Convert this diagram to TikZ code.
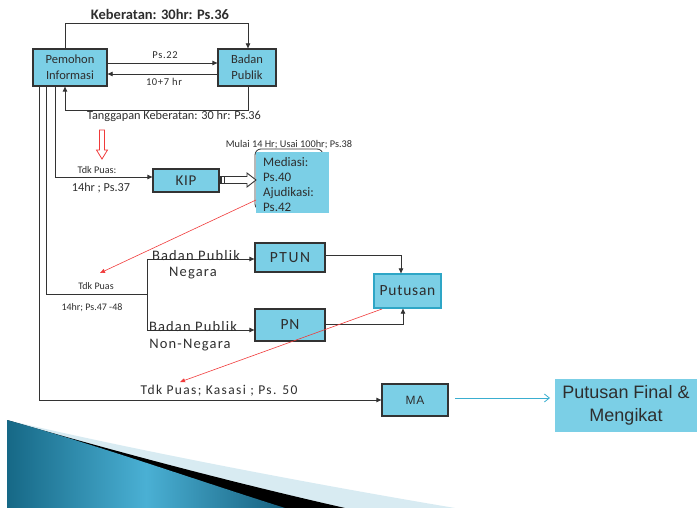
\documentclass[tikz,border=0pt]{standalone}
\usepackage{fontspec}
\setmainfont{Carlito}
\newfontfamily\widefont{Carlito}[LetterSpace=8]
\newfontfamily\arialfont{Liberation Sans}
\usetikzlibrary{arrows.meta,calc}

\definecolor{boxblue}{HTML}{7BCFE6}
\definecolor{linegray}{HTML}{333333}
\definecolor{txtgray}{HTML}{2E2E2E}
\definecolor{redline}{HTML}{F03A3A}
\definecolor{cyanline}{HTML}{3AAED0}
\definecolor{edgeblue}{HTML}{2EA6C6}
\definecolor{palebar}{HTML}{D8EBF2}

\tikzset{
  box/.style={draw=linegray, line width=1.3pt, fill=boxblue, inner sep=0pt, text=txtgray},
  link/.style={draw=linegray, line width=0.8pt, -{Triangle[length=5pt,width=4.5pt]}},
  plain/.style={draw=linegray, line width=0.8pt},
  redarrow/.style={draw=redline, line width=0.6pt, -{Triangle[length=5pt,width=4pt]}},
  lbl/.style={text=txtgray, inner sep=0pt}
}

\begin{document}
\begin{tikzpicture}[x=1pt,y=-1pt]
\useasboundingbox (0,0) rectangle (697,508);

% ---- corner ribbon ----
\fill[palebar] (7,420) .. controls (120,447) and (300,482) .. (455,508) -- (7,508) -- cycle;
\fill[black] (7,420) .. controls (110,450) and (230,482) .. (345,508) -- (7,508) -- cycle;
\shade[left color={rgb,255:red,22;green,104;blue,134}, right color={rgb,255:red,22;green,96;blue,126},
       middle color={rgb,255:red,74;green,176;blue,212}]
  (7,420) .. controls (100,446) and (190,478) .. (285,508) -- (7,508) -- cycle;

% ---- boxes ----
\node[box, minimum width=74pt, minimum height=37pt, align=center,
      font=\fontsize{12.5}{16}\selectfont] (pem) at (70,67.5) {Pemohon\\Informasi};
\node[box, minimum width=58pt, minimum height=37pt, align=center,
      font=\fontsize{12.5}{16}\selectfont] (bad) at (247,67.5) {Badan\\Publik};
\node[box, minimum width=66pt, minimum height=23pt, font=\addfontfeatures{LetterSpace=4}\fontsize{15}{17}\selectfont] (kip) at (186,180.5) {KIP};

% session frame and Mediasi card
\draw[linegray, line width=0.8pt, rounded corners=6pt] (255,149) rectangle (323,210);
\node[fill=boxblue, inner sep=0pt, minimum width=73pt, minimum height=61pt, anchor=north west] (med) at (256,152) {};
\begin{scope}
  \clip (med.north west) rectangle (med.south east);
  \node[lbl, anchor=north west, align=left, font=\fontsize{13}{15.2}\selectfont]
    at (263,157) {Mediasi:\\Ps.40\\Ajudikasi:\\Ps.42};
\end{scope}

\node[box, minimum width=70pt, minimum height=29pt, font=\addfontfeatures{LetterSpace=10}\fontsize{15.5}{17}\selectfont] (ptun) at (290,257.5) {PTUN};
\node[box, minimum width=70pt, minimum height=32pt, font=\addfontfeatures{LetterSpace=6}\fontsize{15.5}{17}\selectfont] (pn) at (290,325) {PN};
\node[box, draw=edgeblue, minimum width=67pt, minimum height=34pt, font=\addfontfeatures{LetterSpace=5}\fontsize{15.5}{17}\selectfont] (put) at (407.5,291) {Putusan};
\node[box, minimum width=66pt, minimum height=32pt, font=\arialfont\addfontfeatures{LetterSpace=6}\fontsize{12}{14}\selectfont] (ma) at (415,400) {MA};
\node[fill=boxblue, inner sep=0pt, minimum width=142pt, minimum height=53pt, align=center, text=txtgray,
      font=\arialfont\fontsize{18}{23}\selectfont] (fin) at (626,405.5) {Putusan Final \&\\Mengikat};

% ---- connectors between Pemohon and Badan Publik ----
\coordinate (kL) at (65,23);
\coordinate (kR) at (248,23);
\draw[link] (kL |- pem.north) -- (kL) -- (kR) -- (kR |- bad.north);
\node[lbl, font=\bfseries\fontsize{14.5}{16}\selectfont] (kebl) at (160,14) {Keberatan: 30hr: Ps.36};

\draw[link] (pem.east |- 0,63) -- (bad.west |- 0,63);
\node[lbl, font=\addfontfeatures{LetterSpace=6}\fontsize{10.5}{12}\selectfont] (ps22) at (165,55) {Ps.22};
\draw[link] (bad.west |- 0,74) -- (pem.east |- 0,74);
\node[lbl, font=\addfontfeatures{LetterSpace=6}\fontsize{10.5}{12}\selectfont] (hr17) at (164,81.5) {10+7 hr};

\coordinate (tR) at (248,110);
\coordinate (tL) at (65,110);
\draw[link] (tR |- bad.south) -- (tR) -- (tL) -- (tL |- pem.south);
\node[lbl, font=\fontsize{12.3}{14}\selectfont] (tangl) at (174,116.5) {Tanggapan Keberatan: 30 hr: Ps.36};

% hollow red pointer
\draw[redline, fill=white, line width=0.8pt] (99.5,130) -- (104.5,130) -- (104.5,150) -- (107.5,150)
  -- (102,159) -- (96.5,150) -- (99.5,150) -- cycle;

% ---- route to KIP ----
\coordinate (kipc) at (55,177);
\draw[link] (kipc |- pem.south) -- (kipc) -- (kip.west |- kipc);
\node[lbl, font=\fontsize{10.2}{12}\selectfont] (tp1) at (97,169.5) {Tdk Puas:};
\node[lbl, font=\fontsize{12.2}{14}\selectfont] (tp1b) at (101,188.5) {14hr ; Ps.37};

% hollow block arrow KIP -> Mediasi
\draw[linegray, fill=white, line width=0.9pt] (kip.east |- 0,176.5) -- (247,176.5) -- (247,173) -- (256,180)
  -- (247,187) -- (247,183.5) -- (kip.east |- 0,183.5) -- cycle;
\fill[linegray] (219.5,176.5) rectangle (222,183.5);
\draw[linegray, line width=0.7pt] (224,176.5) -- (224,183.5);

\node[lbl, font=\fontsize{10.3}{12}\selectfont] (mulai) at (289,144.5) {Mulai 14 Hr; Usai 100hr; Ps.38};

% ---- route to the courts ----
\coordinate (cJ) at (46,294);
\coordinate (cB) at (147,294);
\coordinate (cT) at (147,259);
\coordinate (cD) at (147,330);
\draw[plain] (cJ |- pem.south) -- (cJ) -- (cB);
\draw[plain] (cT) -- (cD);
\draw[link] (cT) -- (ptun.west |- cT);
\draw[link] (cD) -- (pn.west |- cD);
\node[lbl, font=\fontsize{10}{12}\selectfont] (tp2) at (96,286) {Tdk Puas};
\node[lbl, font=\fontsize{10}{12}\selectfont] (tp2b) at (92,307.5) {14hr; Ps.47 -48};

\node[lbl, font=\widefont\fontsize{14.5}{16}\selectfont] (bpn1) at (196,256) {Badan Publik};
\node[lbl, font=\widefont\fontsize{14.5}{16}\selectfont] (bpn2) at (193,273.5) {Negara};
\node[lbl, font=\widefont\fontsize{14.5}{16}\selectfont] (bpx1) at (193,327) {Badan Publik};
\node[lbl, font=\widefont\fontsize{14.5}{16}\selectfont] (bpx2) at (190,345.5) {Non-Negara};

\coordinate (pa) at (401,255);
\coordinate (pb) at (403,324);
\draw[link] (ptun.east |- pa) -- (pa) -- (pa |- put.north);
\draw[link] (pn.east |- pb) -- (pb) -- (pb |- put.south);

% ---- route to MA ----
\coordinate (mC) at (39,400);
\draw[link] (mC |- pem.south) -- (mC) -- (ma.west |- mC);
\node[lbl, font=\addfontfeatures{LetterSpace=10}\fontsize{13.5}{15}\selectfont] (kas) at (219,390.5) {Tdk Puas; Kasasi ; Ps. 50};

\coordinate (fA) at (455,398);
\coordinate (fB) at (550,398);
\draw[cyanline, line width=0.8pt, -{Straight Barb[length=5pt,width=8pt]}] (fA) -- (fB);

% ---- red return pointers ----
\coordinate (r1) at (100,273);
\coordinate (r2) at (180,382);
\draw[redarrow] (med.west |- 0,200) -- (r1);
\draw[redarrow] (382,309) -- (r2);

\end{tikzpicture}
\end{document}
